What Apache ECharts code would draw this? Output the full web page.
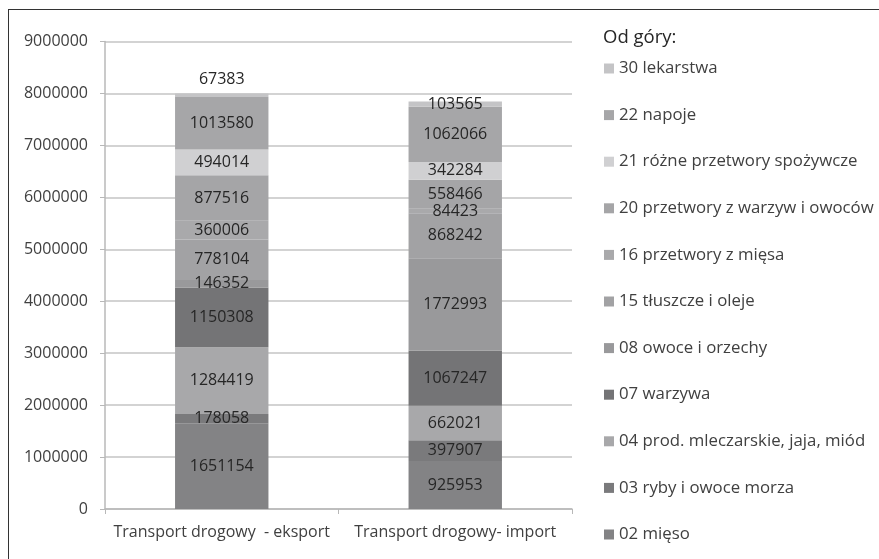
<!DOCTYPE html>
<html>
<head>
<meta charset="utf-8">
<script src="https://cdn.jsdelivr.net/npm/echarts@6/dist/echarts.min.js"></script>
<style>
    html, body { margin: 0; padding: 0; background: #fff; }
    #frame {
        position: absolute; left: 8px; top: 9px; width: 880px; height: 560px;
        border: 1px solid #333;
    }
    #chart { position: absolute; left: 0; top: 0; width: 879px; height: 559px; }
</style>
</head>
<body>
<div id="frame"></div>
<div id="chart"></div>
<script>
// kategorie (osie X)
const categories = ['Transport drogowy  - eksport', 'Transport drogowy- import'];

// grupy towarowe, od dołu stosu
const groups = [
    '02 mięso',
    '03 ryby i owoce morza',
    '04 prod. mleczarskie, jaja, miód',
    '07 warzywa',
    '08 owoce i orzechy',
    '15 tłuszcze i oleje',
    '16 przetwory z mięsa',
    '20 przetwory z warzyw i owoców',
    '21 różne przetwory spożywcze',
    '22 napoje',
    '30 lekarstwa'
];

// wartości: [eksport, import]
const mieso = [1651154, 925953];
const ryby = [178058, 397907];
const mleczarskie = [1284419, 662021];
const warzywa = [1150308, 1067247];
const owoce = [146352, 1772993];
const tluszcze = [778104, 868242];
const przetworyMiesa = [360006, 84423];
const przetworyWarzyw = [877516, 558466];
const rozne = [494014, 342284];
const napoje = [1013580, 1062066];
const lekarstwa = [67383, 103565];

const values = [mieso, ryby, mleczarskie, warzywa, owoce, tluszcze,
    przetworyMiesa, przetworyWarzyw, rozne, napoje, lekarstwa];

// odcienie szarości jak w oryginale
const colors = ['#838385', '#7a7a7c', '#a8a8aa', '#747476', '#99999b', '#a2a2a4',
    '#a9a9ab', '#a5a5a7', '#d0d0d2', '#a6a6a8', '#c4c4c6'];

const chart = echarts.init(document.getElementById('chart'));

const font = 'Open Sans';

const series = groups.map((name, i) => ({
    name: name,
    type: 'bar',
    stack: 'total',
    barWidth: '40%',
    itemStyle: { color: colors[i] },
    label: {
        show: true,
        position: 'inside',
        color: '#262626',
        fontFamily: font,
        fontSize: 16
    },
    data: values[i].map((v, j) => {
        // etykieta najmniejszego segmentu eksportu przesunięta nad słupek
        if (i === groups.length - 1 && j === 0) {
            return { value: v, label: { position: 'top', distance: 6 } };
        }
        return v;
    })
}));

const option = {
    animation: false,
    title: {
        text: 'Od góry:',
        left: 598,
        top: 23,
        textStyle: { fontFamily: font, fontSize: 18.5, fontWeight: 'normal', color: '#262626' }
    },
    legend: {
        orient: 'vertical',
        left: 599,
        top: 55,
        icon: 'rect',
        itemWidth: 10,
        itemHeight: 10,
        itemGap: 29.6,
        data: groups.slice().reverse(),
        textStyle: { fontFamily: font, fontSize: 16.8, color: '#404040', lineHeight: 16 }
    },
    grid: {
        left: 105,
        right: 307,
        top: 41.5,
        bottom: 50
    },
    xAxis: {
        type: 'category',
        data: categories,
        axisLine: { lineStyle: { color: '#b8b8b8', width: 1.5 } },
        axisTick: { show: true, length: 5, lineStyle: { color: '#b8b8b8' } },
        axisLabel: { fontFamily: font, fontSize: 16, color: '#404040', margin: 15, interval: 0, hideOverlap: false }
    },
    yAxis: {
        type: 'value',
        min: 0,
        max: 9000000,
        interval: 1000000,
        axisLine: { show: true, lineStyle: { color: '#b8b8b8', width: 1.5 } },
        axisTick: { show: true, length: 5, lineStyle: { color: '#b8b8b8' } },
        axisLabel: { fontFamily: font, fontSize: 16, color: '#404040', margin: 17, formatter: v => String(v) },
        splitLine: { lineStyle: { color: '#c4c4c4', width: 1.5 } }
    },
    series: series
};

chart.setOption(option);
</script>
</body>
</html>
